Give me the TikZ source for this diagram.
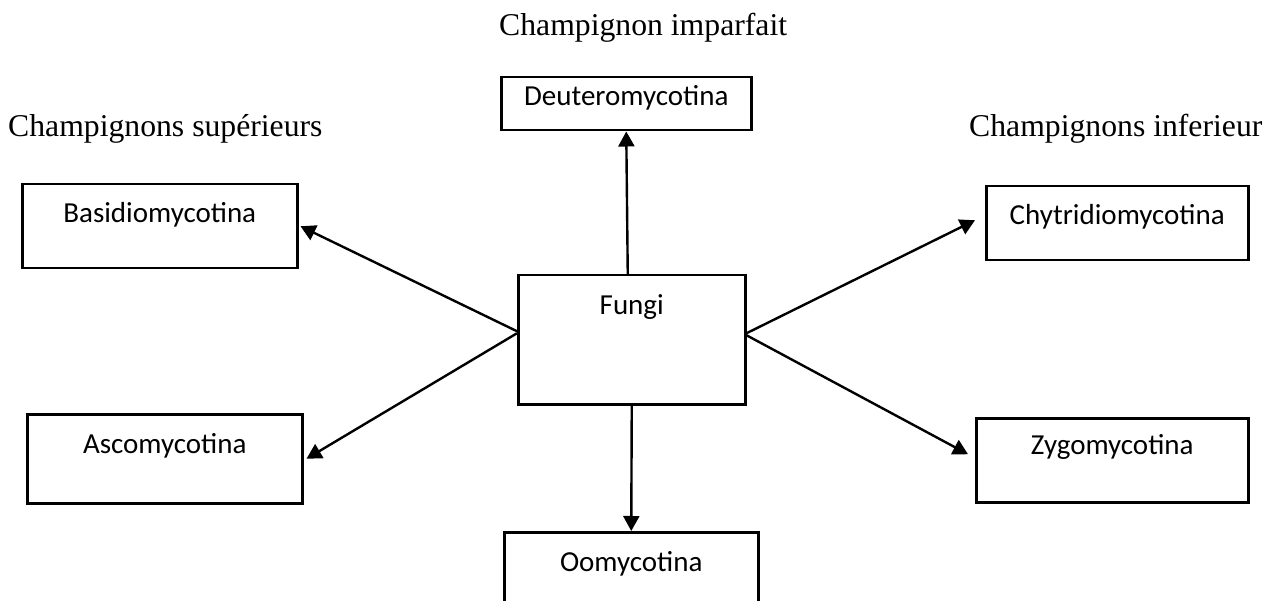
\documentclass[tikz,border=0pt]{standalone}
\usepackage{fontspec}
\setmainfont{Liberation Serif}
\newfontfamily\boxfont{Carlito}
\usetikzlibrary{arrows.meta,calc}
\tikzset{
  box/.style={draw, line width=2.5pt, inner sep=0pt, anchor=north west,
    font=\boxfont\fontsize{29}{34}\selectfont},
  lab/.style={inner sep=0pt, anchor=base west, font=\fontsize{31.7}{38}\selectfont},
  conn/.style={line width=2.4pt, -{Triangle[length=15pt,width=16pt]}}
}
\begin{document}
\begin{tikzpicture}[x=1pt,y=-1pt]
\clip (0,0) rectangle (1276,601);
\fill[white] (0,0) rectangle (1276,601);
% labels
\node[lab] (limp) at (499,36) {Champignon imparfait};
\node[lab] (lsup) at (8,137) {Champignons supérieurs};
\node[lab] (linf) at (969,137) {Champignons inferieur};
% boxes
\node[box, minimum width=250pt, text height=28pt, text depth=25pt] (deut) at (500,76) {Deuteromycotina};
\node[box, minimum width=275pt, text height=38pt, text depth=46pt] (basidio) at (21,183) {Basidiomycotina};
\node[box, minimum width=262pt, text height=38pt, text depth=36pt] (chytrid) at (985,185) {Chytridiomycotina};
\node[box, minimum width=227pt, text height=39pt, text depth=90pt] (fungi) at (517,274) {Fungi};
\node[box, minimum width=275pt, text height=39pt, text depth=50pt] (asco) at (26,413) {Ascomycotina};
\node[box, minimum width=272pt, text height=36pt, text depth=48pt] (zygo) at (975,417) {Zygomycotina};
\node[box, minimum width=254pt, text height=39pt, text depth=61pt] (oomy) at (503,531) {Oomycotina};
% connectors
\draw[conn] ($(fungi.north)+(-4,0)$) -- (deut.south);
\draw[conn] (fungi.south) -- (oomy.north);
\draw[conn] ($(fungi.west)+(0,-8.5)$) -- ($(basidio.east)+(2,0)$);
\draw[conn] ($(fungi.west)+(0,-6.5)$) -- ($(asco.east)+(3,0)$);
\draw[conn] ($(fungi.east)+(0,-6.5)$) -- ($(chytrid.west)+(-10,-3)$);
\draw[conn] ($(fungi.east)+(0,-4.5)$) -- ($(zygo.west)+(-7,-6)$);
\end{tikzpicture}
\end{document}
